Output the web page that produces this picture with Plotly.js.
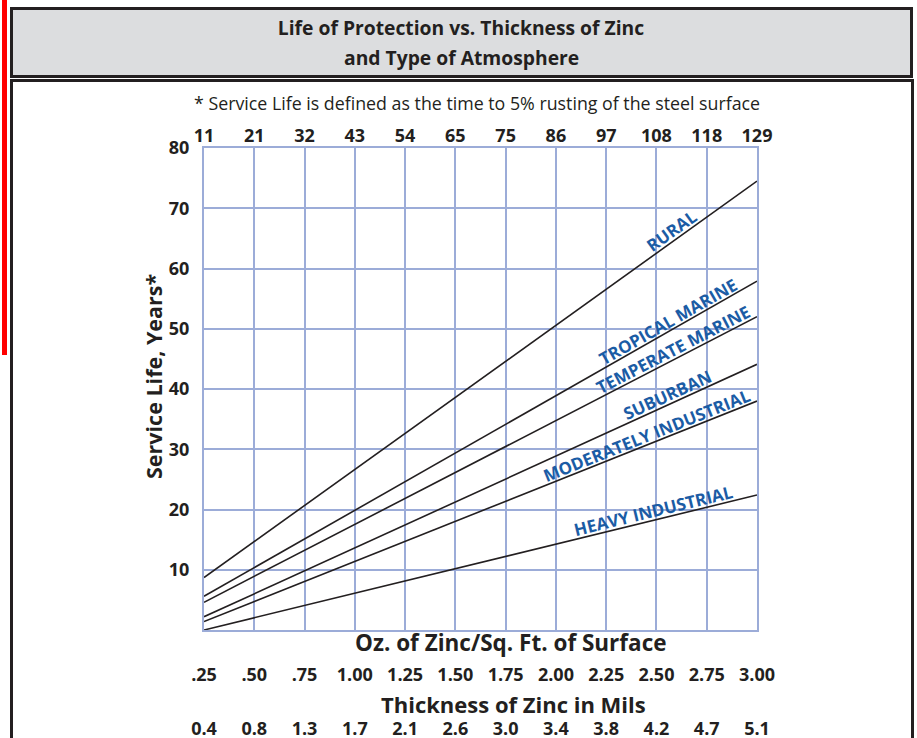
<!DOCTYPE html>
<html>
<head>
<meta charset="utf-8">
<script src="https://cdn.plot.ly/plotly-3.0.1.min.js"></script>
<style>
  html, body { margin: 0; padding: 0; background: #ffffff; }
  #chart { width: 917px; height: 738px; }
</style>
</head>
<body>
<div id="chart"></div>
<script>
// ---- data ----------------------------------------------------------------
// Zinc coating weight, oz per sq. ft. (bottom axis)
const ozTicks  = [0.25, 0.50, 0.75, 1.00, 1.25, 1.50, 1.75, 2.00, 2.25, 2.50, 2.75, 3.00];
const ozLabels = ['.25', '.50', '.75', '1.00', '1.25', '1.50', '1.75', '2.00', '2.25', '2.50', '2.75', '3.00'];
// Same coating expressed in g/m² (top axis) and in mils (lower axis)
const gramLabels = ['11', '21', '32', '43', '54', '65', '75', '86', '97', '108', '118', '129'];
const milLabels  = ['0.4', '0.8', '1.3', '1.7', '2.1', '2.6', '3.0', '3.4', '3.8', '4.2', '4.7', '5.1'];
// Service life axis, years
const yearTicks = [10, 20, 30, 40, 50, 60, 70, 80];

// Service life (years) at the lightest and heaviest coatings, per atmosphere
const lineOz = [0.25, 3.00];
const rural                = [8.7, 74.5];
const tropicalMarine       = [5.6, 57.9];
const temperateMarine      = [4.6, 52.0];
const suburban             = [2.2, 44.1];
const moderatelyIndustrial = [1.4, 38.0];
const heavyIndustrial      = [0.0, 22.4];

const atmospheres = ['RURAL', 'TROPICAL MARINE', 'TEMPERATE MARINE', 'SUBURBAN',
                     'MODERATELY INDUSTRIAL', 'HEAVY INDUSTRIAL'];
const seriesValues = [rural, tropicalMarine, temperateMarine, suburban,
                      moderatelyIndustrial, heavyIndustrial];

// ---- layout geometry (pixels) --------------------------------------------
const W = 917, H = 738;
const L = 204, R = 757, T = 148, B = 630;
const plotW = R - L, plotH = B - T;
const X_RANGE = [0.25, 3.00], Y_RANGE = [0, 80];
const px = v => (v - L) / plotW;          // pixel x -> paper x
const py = v => (B - v) / plotH;          // pixel y -> paper y

const INK = '#231f20';
const GRID = '#9cacd8';
const BLUE = '#1b5ca5';
const SANS = '"Open Sans", "Noto Sans", sans-serif';

// where each curve name sits along its line (oz), lifted off the line
const labelAt = [2.604, 2.580, 2.603, 2.577, 2.466, 2.497];
const labelLift = 9.5;

// ---- traces ----------------------------------------------------------------
const traces = seriesValues.map((vals, i) => ({
  type: 'scatter', mode: 'lines',
  x: lineOz, y: vals, name: atmospheres[i],
  line: { color: INK, width: 1.6 },
  hoverinfo: 'x+y+name', showlegend: false
}));
// empty traces that bring up the top (g/m²) and lower (mils) axes
traces.push({ type: 'scatter', x: [], y: [], xaxis: 'x2', yaxis: 'y', showlegend: false });
traces.push({ type: 'scatter', x: [], y: [], xaxis: 'x3', yaxis: 'y', showlegend: false });

// ---- curve labels ----------------------------------------------------------
const pxPerOz = plotW / (X_RANGE[1] - X_RANGE[0]);
const pxPerYear = plotH / (Y_RANGE[1] - Y_RANGE[0]);
const curveLabels = seriesValues.map((vals, i) => {
  const slope = (vals[1] - vals[0]) / (lineOz[1] - lineOz[0]);
  const theta = Math.atan2(slope * pxPerYear, pxPerOz);
  const yOnLine = vals[0] + slope * (labelAt[i] - lineOz[0]);
  return {
    x: labelAt[i], y: yOnLine, xref: 'x', yref: 'y',
    text: atmospheres[i], showarrow: false,
    textangle: -theta * 180 / Math.PI,
    xanchor: 'center', yanchor: 'middle',
    xshift: -labelLift * Math.sin(theta), yshift: labelLift * Math.cos(theta),
    font: { family: SANS, size: 17, color: BLUE, weight: 'bold' }
  };
});

// ---- text placed around the plot -------------------------------------------
const headingFont = { family: SANS, size: 19.3, color: INK, weight: 'bold' };
const textNotes = [
  { x: px(461), y: py(57), text: 'and Type of Atmosphere', font: headingFont },
  { x: px(477), y: py(103), text: '* Service Life is defined as the time to 5% rusting of the steel surface',
    font: { family: SANS, size: 17.8, color: INK } },
  { x: px(153), y: py(377), text: 'Service Life, Years*', textangle: -90,
    font: { family: SANS, size: 21.5, color: INK, weight: 'bold' } },
  { x: px(511), y: py(642), text: 'Oz. of Zinc/Sq. Ft. of Surface',
    font: { family: SANS, size: 22.5, color: INK, weight: 'bold' } },
  { x: px(513), y: py(704), text: 'Thickness of Zinc in Mils',
    font: { family: SANS, size: 22, color: INK, weight: 'bold' } }
].map(a => Object.assign({ xref: 'paper', yref: 'paper', showarrow: false,
                           xanchor: 'center', yanchor: 'middle' }, a));

// ---- frame: red edge strip, grey heading panel, bordered body ---------------
const frame = [
  { type: 'rect', xref: 'paper', yref: 'paper', layer: 'below',
    x0: px(2), x1: px(7), y0: py(0), y1: py(355),
    fillcolor: '#ff0000', line: { width: 0 } },
  { type: 'rect', xref: 'paper', yref: 'paper', layer: 'below',
    x0: px(11.5), x1: px(911.5), y0: py(8.5), y1: py(76.5),
    fillcolor: '#dcdddf', line: { color: INK, width: 3 } },
  { type: 'rect', xref: 'paper', yref: 'paper', layer: 'below',
    x0: px(11.5), x1: px(912.5), y0: py(80.5), y1: py(760),
    fillcolor: 'rgba(0,0,0,0)', line: { color: INK, width: 3 } }
];

const tickFont = { family: SANS, size: 18, color: INK, weight: 'bold' };

const layout = {
  width: W, height: H,
  margin: { l: L, r: W - R, t: T, b: H - B, pad: 0 },
  paper_bgcolor: '#ffffff', plot_bgcolor: '#ffffff',
  showlegend: false,
  title: {
    text: 'Life of Protection vs. Thickness of Zinc',
    font: headingFont,
    x: 461 / W, xref: 'container', xanchor: 'center',
    y: 1 - 28 / H, yref: 'container', yanchor: 'middle'
  },
  xaxis: {
    range: X_RANGE, tickmode: 'array', tickvals: ozTicks, ticktext: ozLabels,
    showgrid: true, gridcolor: GRID, gridwidth: 2,
    showline: true, mirror: true, linecolor: GRID, linewidth: 2,
    zeroline: false, ticks: '', tickfont: tickFont, ticklabelstandoff: 27
  },
  xaxis2: {
    overlaying: 'x', anchor: 'y', side: 'top', range: X_RANGE,
    tickmode: 'array', tickvals: ozTicks, ticktext: gramLabels,
    showgrid: false, showline: false, zeroline: false, ticks: '',
    tickfont: tickFont, ticklabelstandoff: 1
  },
  xaxis3: {
    overlaying: 'x', anchor: 'y', side: 'bottom', range: X_RANGE,
    tickmode: 'array', tickvals: ozTicks, ticktext: milLabels,
    showgrid: false, showline: false, zeroline: false, ticks: '',
    tickfont: tickFont, ticklabelstandoff: 86
  },
  yaxis: {
    range: Y_RANGE, tickmode: 'array', tickvals: yearTicks,
    showgrid: true, gridcolor: GRID, gridwidth: 2,
    showline: true, mirror: true, linecolor: GRID, linewidth: 2,
    zeroline: false, ticks: '', tickfont: tickFont, ticklabelstandoff: 9
  },
  annotations: textNotes.concat(curveLabels),
  shapes: frame
};

Plotly.newPlot('chart', traces, layout, { displayModeBar: false, staticPlot: true });
</script>
</body>
</html>
